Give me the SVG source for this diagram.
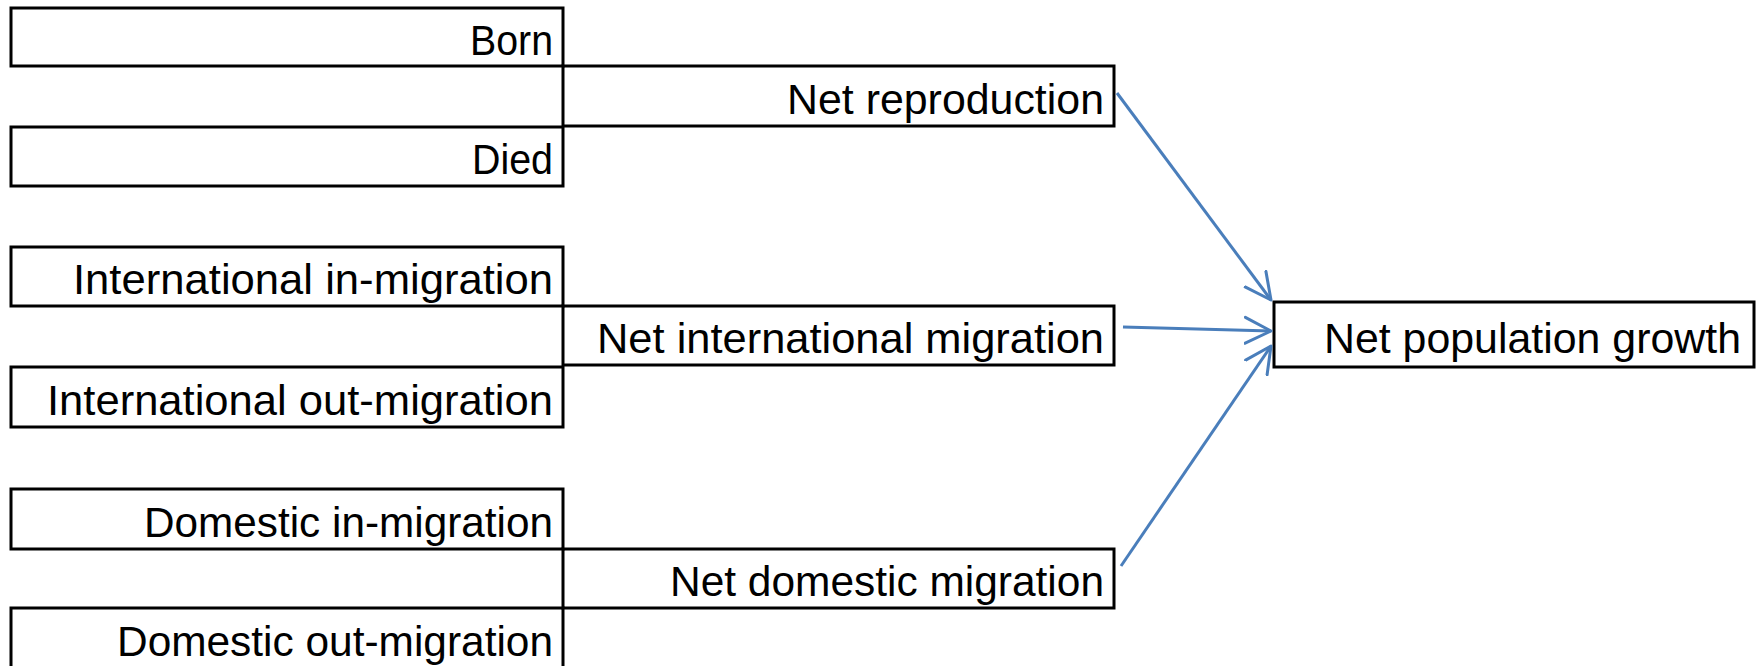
<svg xmlns="http://www.w3.org/2000/svg" width="1763" height="666" viewBox="0 0 1763 666">
<style>
.box{fill:none;stroke:#000;stroke-width:3}
.lbl{font-family:"Liberation Sans",Arial,sans-serif;font-size:42px;fill:#000;text-anchor:end}
.conn{fill:none;stroke:#4a7ebb;stroke-width:3}
</style>
<defs>
<marker id="arr" viewBox="0 0 30 30" refX="27" refY="15" markerWidth="30" markerHeight="30" markerUnits="userSpaceOnUse" orient="auto">
<path d="M1,2 L27,15 L1,28" fill="none" stroke="#4a7ebb" stroke-width="3" stroke-linecap="round" stroke-linejoin="round"/>
</marker>
</defs>
<rect width="1763" height="666" fill="#fff"/>
<g id="born"><rect class="box" x="11" y="8" width="552" height="58"/><text class="lbl" x="553" y="55" textLength="83" lengthAdjust="spacingAndGlyphs">Born</text></g>
<g id="net-reproduction"><rect class="box" x="563" y="66" width="551" height="60"/><text class="lbl" x="1104" y="114" textLength="317" lengthAdjust="spacingAndGlyphs">Net reproduction</text></g>
<g id="died"><rect class="box" x="11" y="127" width="552" height="59"/><text class="lbl" x="553" y="174" textLength="81" lengthAdjust="spacingAndGlyphs">Died</text></g>
<g id="intl-in"><rect class="box" x="11" y="247" width="552" height="59"/><text class="lbl" x="553" y="294" textLength="480" lengthAdjust="spacingAndGlyphs">International in-migration</text></g>
<g id="net-intl"><rect class="box" x="563" y="306" width="551" height="59"/><text class="lbl" x="1104" y="353" textLength="507" lengthAdjust="spacingAndGlyphs">Net international migration</text></g>
<g id="intl-out"><rect class="box" x="11" y="367" width="552" height="60"/><text class="lbl" x="553" y="415" textLength="506" lengthAdjust="spacingAndGlyphs">International out-migration</text></g>
<g id="dom-in"><rect class="box" x="11" y="489" width="552" height="60"/><text class="lbl" x="553" y="537" textLength="409" lengthAdjust="spacingAndGlyphs">Domestic in-migration</text></g>
<g id="net-dom"><rect class="box" x="563" y="549" width="551" height="59"/><text class="lbl" x="1104" y="596" textLength="434" lengthAdjust="spacingAndGlyphs">Net domestic migration</text></g>
<g id="dom-out"><rect class="box" x="11" y="608" width="552" height="62"/><text class="lbl" x="553" y="656" textLength="436" lengthAdjust="spacingAndGlyphs">Domestic out-migration</text></g>
<g id="net-pop"><rect class="box" x="1274" y="302" width="480" height="65"/><text class="lbl" x="1741" y="353" textLength="417" lengthAdjust="spacingAndGlyphs">Net population growth</text></g>
<g id="connectors">
<line class="conn" x1="1117" y1="93" x2="1271" y2="300" marker-end="url(#arr)"/>
<line class="conn" x1="1123" y1="327" x2="1271" y2="331" marker-end="url(#arr)"/>
<line class="conn" x1="1121" y1="566" x2="1271" y2="346" marker-end="url(#arr)"/>
</g>
</svg>
